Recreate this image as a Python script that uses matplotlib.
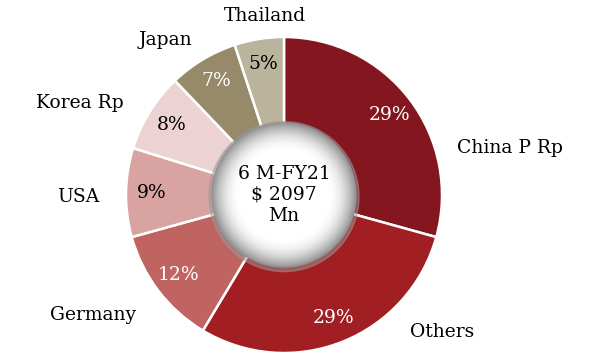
import numpy as np
import matplotlib.pyplot as plt
from matplotlib.patches import Circle

# Export share by destination, 6M-FY21
countries = ["China P Rp", "Others", "Germany", "USA", "Korea Rp", "Japan", "Thailand"]
shares = [29, 29, 12, 9, 8, 7, 5]
colors = ["#84161F", "#A11F22", "#C06462", "#D9A3A2", "#EDD2D3", "#978A6B", "#BBB49D"]
pct_colors = ["white", "white", "white", "black", "black", "white", "black"]
# where each country name sits (data units, pie radius = 1)
label_pos = [(1.43, 0.30), (1.00, -0.87), (-1.21, -0.76), (-1.30, -0.01),
             (-1.29, 0.58), (-0.75, 0.98), (-0.12, 1.13)]
center_text = "6 M-FY21\n$ 2097\nMn"

plt.rcParams["font.family"] = ["DejaVu Serif"]

fig = plt.figure(figsize=(5.9, 3.54), dpi=100)
ax = fig.add_axes([0, 0, 1, 1])

wedges, texts = ax.pie(
    shares,
    colors=colors,
    startangle=90,
    counterclock=False,
    radius=1.0,
    wedgeprops=dict(width=0.56, edgecolor="white", linewidth=1.8),
)

# percentage labels inside the ring
for w, val, tc in zip(wedges, shares, pct_colors):
    mid = np.deg2rad((w.theta1 + w.theta2) / 2)
    r = 0.84
    ax.text(r * np.cos(mid), r * np.sin(mid), f"{val}%", color=tc,
            ha="center", va="center", fontsize=13.5)

for name, (x, y) in zip(countries, label_pos):
    ax.text(x, y, name, ha="center", va="center", fontsize=13.5, color="black")

# shaded centre disc with radial gradient
R = 0.46
shadow = Circle((0.0, -0.01), R + 0.015, color="#9a9a9a", alpha=0.5, zorder=3)
ax.add_patch(shadow)
n = 300
g = np.linspace(-R, R, n)
xx, yy = np.meshgrid(g, g)
rr = np.sqrt(xx ** 2 + yy ** 2) / R
shade = np.clip(1.0 - 0.45 * np.clip((rr - 0.6) / 0.4, 0, 1) ** 2.0, 0, 1)
img = ax.imshow(shade, cmap="gray", vmin=0, vmax=1, extent=(-R, R, -R, R),
                origin="lower", zorder=4, interpolation="bilinear")
clip = Circle((0, 0), R, transform=ax.transData)
img.set_clip_path(clip)

ax.text(0, 0.0, center_text, ha="center", va="center", fontsize=13.5,
        linespacing=1.2, zorder=5)

ax.set_xlim(-284 / 158, (590 - 284) / 158)
ax.set_ylim(-159 / 158, 195 / 158)
ax.set_aspect("equal")
ax.axis("off")

fig.savefig("out.png", dpi=100)
